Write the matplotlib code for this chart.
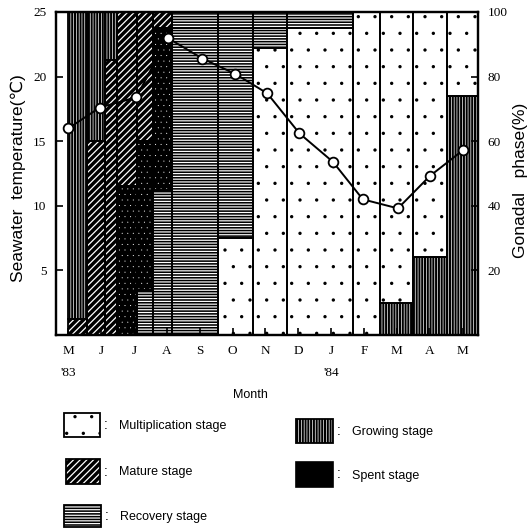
import matplotlib
matplotlib.use("Agg")
import matplotlib.pyplot as plt
from matplotlib.patches import Rectangle

# ---------------- data ----------------
month_labels = ["M", "J", "J", "A", "S", "O", "N", "D", "J", "F", "M", "A", "M"]
month_pos = list(range(13))
year_labels = ["'83", "'84"]
year_pos = [0, 8]

# sampling positions (in months from May '83) and seawater temperature (deg C)
sample_pos = [0.0, 0.95, 2.07, 3.02, 4.08, 5.09, 6.06, 7.04, 8.06, 8.97, 10.04, 11.01, 12.02]
temperature = [16.0, 17.6, 18.4, 23.0, 21.4, 20.2, 18.7, 15.6, 13.4, 10.5, 9.8, 12.3, 14.3]

# gonadal phase columns (x extent in months) and stacked stages (upper % of each stage)
col_left = [-0.02, 0.56, 1.11, 1.48, 2.09, 2.57, 3.15, 4.55, 5.62, 6.66, 8.67, 9.49, 10.50, 11.54]
col_right = [0.56, 1.11, 1.48, 2.09, 2.57, 3.15, 4.55, 5.62, 6.66, 8.67, 9.49, 10.50, 11.54, 12.48]
col_stages = [
    ["mature", "growing"],
    ["mature", "growing"],
    ["mature", "growing"],
    ["spent", "mature"],
    ["recovery", "spent", "mature"],
    ["recovery", "spent", "mature"],
    ["recovery", "recovery"],
    ["multiplication", "recovery", "recovery"],
    ["multiplication", "recovery", "recovery"],
    ["multiplication", "recovery"],
    ["multiplication"],
    ["growing", "multiplication"],
    ["growing", "multiplication"],
    ["growing", "multiplication"],
]
col_tops = [
    [5, 100],
    [60, 100],
    [85, 100],
    [46, 100],
    [14, 60, 100],
    [45, 95, 100],
    [95, 100],
    [30, 95, 100],
    [89, 95, 100],
    [95, 100],
    [100],
    [10, 100],
    [24, 100],
    [74, 100],
]

legend_stages = ["multiplication", "mature", "recovery", "growing", "spent"]
legend_texts = ["Multiplication stage", "Mature stage", "Recovery stage",
                "Growing stage", "Spent stage"]

# ---------------- styles ----------------
styles = {
    "multiplication": dict(fc="white", hc="black", hatch=".", hlw=0.0),
    "growing": dict(fc="black", hc="white", hatch="||||||", hlw=0.5),
    "mature": dict(fc="black", hc="white", hatch="/////", hlw=0.9),
    "recovery": dict(fc="black", hc="white", hatch="------", hlw=0.85),
    "spent": dict(fc="black", hc="white", hatch="...", hlw=0.0),
}

SERIF = ["Liberation Serif", "DejaVu Serif"]
SANS = ["Liberation Sans", "DejaVu Sans"]
plt.rcParams["font.family"] = SERIF

W, H = 531, 528
fig = plt.figure(figsize=(W / 100, H / 100), dpi=100)
ax = fig.add_axes([56 / W, 1 - 335 / H, (478 - 56) / W, (335 - 12) / H])
ax.set_xlim(-0.38, 12.48)
ax.set_ylim(0, 100)


def set_hlw(patch, lw):
    if hasattr(patch, "set_hatch_linewidth"):
        patch.set_hatch_linewidth(lw)


for left, right, stages, tops in zip(col_left, col_right, col_stages, col_tops):
    bottom = 0
    for stage, top in zip(stages, tops):
        st = styles[stage]
        with plt.rc_context({"hatch.linewidth": st["hlw"]}):
            bars = ax.bar(left, top - bottom, width=right - left, bottom=bottom,
                          align="edge", facecolor=st["fc"], edgecolor=st["hc"],
                          hatch=st["hatch"], linewidth=0, zorder=1)
            for p in bars:
                set_hlw(p, st["hlw"])
        ax.bar(left, top - bottom, width=right - left, bottom=bottom, align="edge",
               fill=False, edgecolor="black", linewidth=1.3, zorder=1.5)
        bottom = top

ax.set_xticks(month_pos)
ax.set_xticklabels(month_labels)
ax.tick_params(axis="x", direction="in", length=5, width=1.2, pad=7, labelsize=9.5)

axT = ax.twinx()
axT.set_ylim(0, 25)
axT.yaxis.tick_left()
axT.set_yticks([5, 10, 15, 20, 25])
axT.tick_params(axis="y", direction="in", length=5, width=1.2, pad=7, labelsize=9.5,
                left=True, right=False, labelleft=True, labelright=False)
axT.plot(sample_pos, temperature, "-o", color="black", lw=1.4, ms=7,
         mfc="white", mec="black", mew=1.3, zorder=5)

# right axis (gonadal phase %), set after twinx which resets tick sides
ax.yaxis.tick_right()
ax.set_yticks([20, 40, 60, 80, 100])
ax.tick_params(axis="y", direction="in", length=5, width=1.2, pad=7, labelsize=9.5,
               right=True, left=False, labelright=True, labelleft=False)

for a in (ax, axT):
    for sp in a.spines.values():
        sp.set_linewidth(1.6)

for lab, xp in zip(year_labels, year_pos):
    ax.text(xp, -0.118, lab, transform=ax.get_xaxis_transform(), ha="center",
            va="center", fontsize=9.5)

fig.text(250 / W, 1 - 395 / H, "Month", ha="center", va="center", fontsize=9,
         family=SANS)
fig.text(18 / W, 1 - 178 / H, "Seawater  temperature(\u2103)", rotation=90,
         ha="center", va="center", fontsize=12.5, family=SANS)
fig.text(521 / W, 1 - 180 / H, "Gonadal   phase(%)", rotation=90,
         ha="center", va="center", fontsize=12.5, family=SANS)

# ---------------- legend ----------------
leg_box = {
    "multiplication": (64, 413, 36, 24),
    "mature": (66, 459, 34, 25),
    "recovery": (64, 505, 37, 22),
    "growing": (296, 419, 37, 24),
    "spent": (296, 462, 37, 25),
}
for stage, text in zip(legend_stages, legend_texts):
    x0, y0, w, h = leg_box[stage]
    st = styles[stage]
    if stage == "spent":
        fig.add_artist(Rectangle((x0 / W, 1 - (y0 + h) / H), w / W, h / H,
                                 transform=fig.transFigure, facecolor="black",
                                 edgecolor="black", linewidth=1.2))
    else:
        with plt.rc_context({"hatch.linewidth": st["hlw"]}):
            r = Rectangle((x0 / W, 1 - (y0 + h) / H), w / W, h / H,
                          transform=fig.transFigure, facecolor=st["fc"],
                          edgecolor=st["hc"], hatch=st["hatch"], linewidth=0)
            set_hlw(r, st["hlw"])
        fig.add_artist(r)
        fig.add_artist(Rectangle((x0 / W, 1 - (y0 + h) / H), w / W, h / H,
                                 transform=fig.transFigure, fill=False,
                                 edgecolor="black", linewidth=1.3))
    fig.text((x0 + w + 4) / W, 1 - (y0 + h / 2) / H, ":", ha="left", va="center",
             fontsize=10, family=SANS)
    fig.text((x0 + w + 19) / W, 1 - (y0 + h / 2 + 1) / H, text, ha="left",
             va="center", fontsize=9, family=SANS)

fig.savefig("out.png", dpi=100)
